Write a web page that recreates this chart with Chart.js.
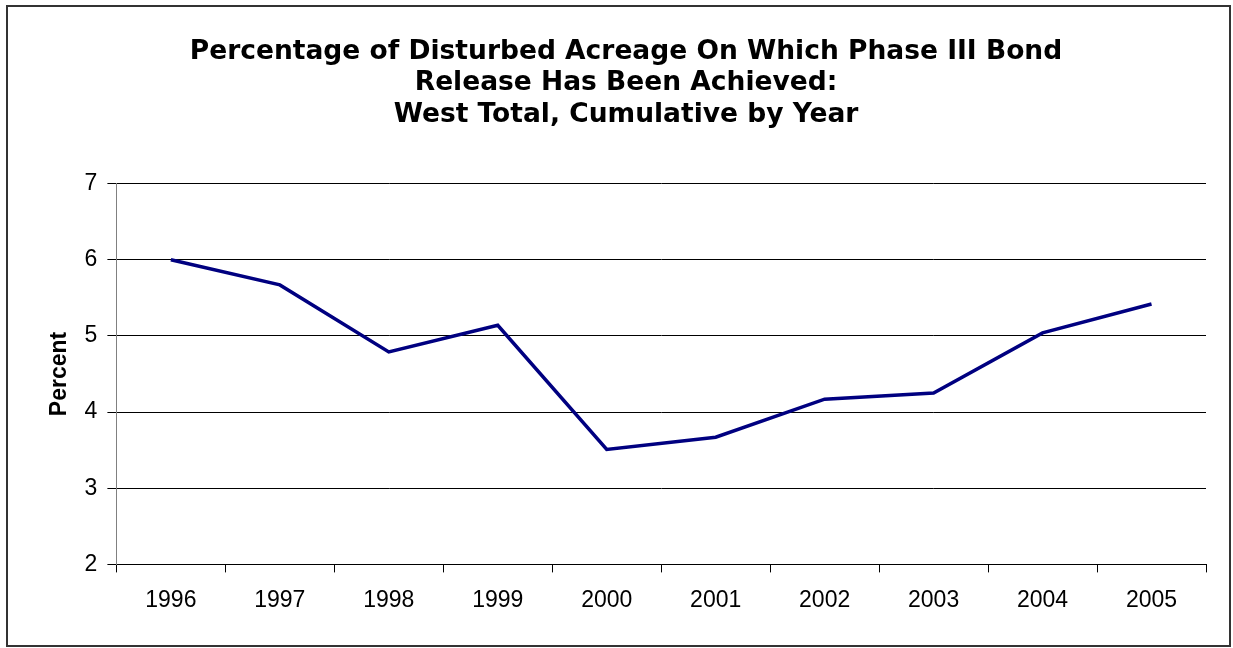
<!DOCTYPE html>
<html>
<head>
<meta charset="utf-8">
<script src="https://cdn.jsdelivr.net/npm/chart.js@4.4.1/dist/chart.umd.min.js"></script>
<style>
  html, body { margin: 0; padding: 0; background: #fff; }
  #wrap { width: 1233px; height: 648px; position: relative; }
</style>
</head>
<body>
<div id="wrap"><canvas id="c" width="1233" height="648"></canvas></div>
<script>
const titleLines = [
  'Percentage of Disturbed Acreage On Which Phase III Bond',
  'Release Has Been Achieved:',
  'West Total, Cumulative by Year'
];
const years = ['1996','1997','1998','1999','2000','2001','2002','2003','2004','2005'];
const percentValues = [6.00, 5.67, 4.79, 5.14, 3.51, 3.67, 4.17, 4.25, 5.04, 5.42];
const yAxisTitle = 'Percent';
const yMin = 2, yMax = 7, yStep = 1;

const frame = {
  id: 'frame',
  beforeDraw(chart) {
    const ctx = chart.ctx;
    ctx.save();
    ctx.fillStyle = '#fff';
    ctx.fillRect(0, 0, chart.width, chart.height);
    ctx.strokeStyle = '#333';
    ctx.lineWidth = 2;
    ctx.strokeRect(7, 6, 1223, 640);
    ctx.restore();
  }
};

new Chart(document.getElementById('c'), {
  type: 'line',
  data: {
    labels: years,
    datasets: [{
      data: percentValues,
      borderColor: '#000080',
      borderWidth: 3.5,
      pointRadius: 0,
      tension: 0,
      fill: false
    }]
  },
  options: {
    responsive: false,
    animation: false,
    layout: { padding: { left: 46, right: 27, top: 0, bottom: 20 } },
    plugins: {
      legend: { display: false },
      tooltip: { enabled: false },
      title: {
        display: true,
        text: titleLines,
        color: '#000',
        font: { family: '"DejaVu Sans", Verdana, sans-serif', size: 26.5, weight: 'bold', lineHeight: 1.19 },
        padding: { top: 36, bottom: 53 }
      }
    },
    scales: {
      x: {
        type: 'category',
        offset: true,
        grid: { display: true, offset: true, drawOnChartArea: false, drawTicks: true, tickLength: 8, color: '#000', lineWidth: 1 },
        border: { display: true, color: '#000', width: 1 },
        ticks: { color: '#000', font: { family: '"Liberation Sans", Arial, sans-serif', size: 23 }, padding: 14, maxRotation: 0 }
      },
      y: {
        min: yMin, max: yMax,
        grid: { color: '#000', lineWidth: 1, drawTicks: true, tickLength: 9 },
        border: { display: true, color: '#808080', width: 1 },
        ticks: { stepSize: yStep, color: '#000', font: { family: '"Liberation Sans", Arial, sans-serif', size: 23 }, padding: 10 },
        title: { display: true, text: yAxisTitle, color: '#000', font: { family: '"Liberation Sans", Arial, sans-serif', size: 23, weight: 'bold' }, padding: { top: 0, bottom: 1 } }
      }
    }
  },
  plugins: [frame]
});
</script>
</body>
</html>
